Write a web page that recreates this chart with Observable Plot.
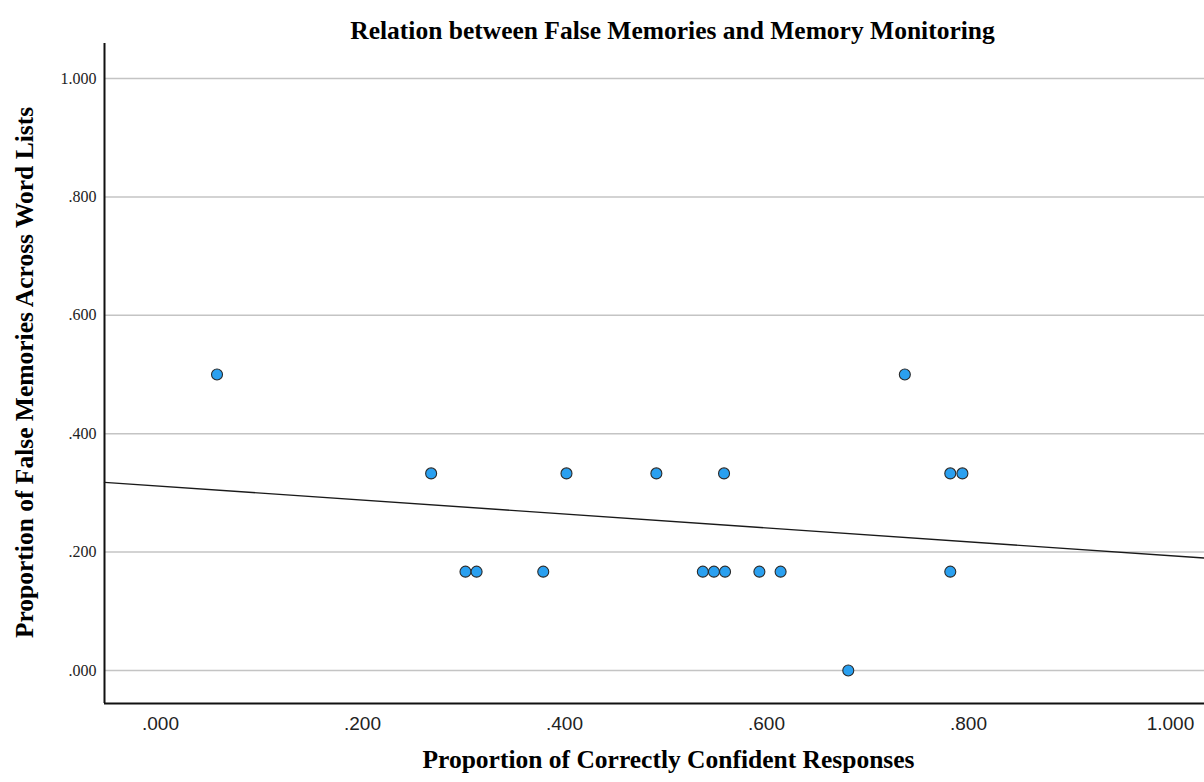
<!DOCTYPE html>
<html>
<head>
<meta charset="utf-8">
<script src="https://cdn.jsdelivr.net/npm/d3@7"></script>
<script src="https://cdn.jsdelivr.net/npm/@observablehq/plot@0.6"></script>
<style>
  html, body { margin: 0; padding: 0; background: #fff; }
  #chart svg { display: block; }
</style>
</head>
<body>
<div id="chart"></div>
<script>
// ---- data ----
const correctlyConfident = [0.056, 0.737, 0.268, 0.402, 0.491, 0.558, 0.782, 0.794,
  0.302, 0.313, 0.379, 0.537, 0.548, 0.559, 0.593, 0.614, 0.782, 0.681];
const falseMemories = [0.5, 0.5, 0.333, 0.333, 0.333, 0.333, 0.333, 0.333,
  0.167, 0.167, 0.167, 0.167, 0.167, 0.167, 0.167, 0.167, 0.167, 0];
const xTicks = [0, 0.2, 0.4, 0.6, 0.8, 1.0];
const yTicks = [0, 0.2, 0.4, 0.6, 0.8, 1.0];
const xDomain = [-0.0554, 1.0337];
const yDomain = [-0.0557, 1.0591];
const chartTitle = "Relation between False Memories and Memory Monitoring";
const xLabel = "Proportion of Correctly Confident Responses";
const yLabel = "Proportion of False Memories Across Word Lists";

const points = correctlyConfident.map((x, i) => ({x, y: falseMemories[i]}));

// least-squares fit line (drawn across the full x range, as in the reference)
const mx = d3.mean(correctlyConfident), my = d3.mean(falseMemories);
const sxy = d3.sum(points, d => (d.x - mx) * (d.y - my));
const sxx = d3.sum(points, d => (d.x - mx) ** 2);
const slope = sxy / sxx, intercept = my - slope * mx;
const fit = xDomain.map(x => ({x, y: intercept + slope * x}));

const fmt = d => d3.format(".3f")(d).replace(/^0\./, ".");
const serif = "'Liberation Serif', 'Times New Roman', serif";
const sans = "'Liberation Sans', Arial, sans-serif";

const chart = Plot.plot({
  width: 1204,
  height: 782,
  marginTop: 43,
  marginBottom: 79,
  marginLeft: 104,
  marginRight: 0,
  style: {background: "#fff", color: "#000"},
  x: {domain: xDomain},
  y: {domain: yDomain},
  marks: [
    Plot.gridY(yTicks, {stroke: "#c4c4c4", strokeOpacity: 1, strokeWidth: 1.5}),
    Plot.axisY(yTicks, {tickSize: 0, tickPadding: 8, tickFormat: fmt, label: null,
      fontSize: 16, fontFamily: serif, fill: "#222"}),
    Plot.axisX(xTicks, {tickSize: 0, tickPadding: 13, tickFormat: fmt, label: null,
      fontSize: 19, fontFamily: sans, fill: "#222"}),
    Plot.ruleX([xDomain[0]], {stroke: "#111", strokeWidth: 2}),
    Plot.ruleY([yDomain[0]], {stroke: "#111", strokeWidth: 2}),
    Plot.line(fit, {x: "x", y: "y", stroke: "#1a1a1a", strokeWidth: 1.4}),
    Plot.dot(points, {x: "x", y: "y", r: 5.5, fill: "#2aa0f0", stroke: "#2a2a2a", strokeWidth: 1.1}),
    Plot.text([chartTitle], {text: d => d, frameAnchor: "top", textAnchor: "middle", dx: 18, dy: -23,
      fontSize: 25.5, fontWeight: "bold", fontFamily: serif, fill: "#000"}),
    Plot.text([xLabel], {text: d => d, frameAnchor: "bottom", textAnchor: "middle", dx: 14, dy: 64,
      fontSize: 25.5, fontWeight: "bold", fontFamily: serif, fill: "#000"}),
    Plot.text([yLabel], {text: d => d, frameAnchor: "left", textAnchor: "middle", rotate: -90, dx: -80, dy: -1,
      fontSize: 25.5, fontWeight: "bold", fontFamily: serif, fill: "#000"})
  ]
});
document.getElementById("chart").appendChild(chart);
</script>
</body>
</html>
